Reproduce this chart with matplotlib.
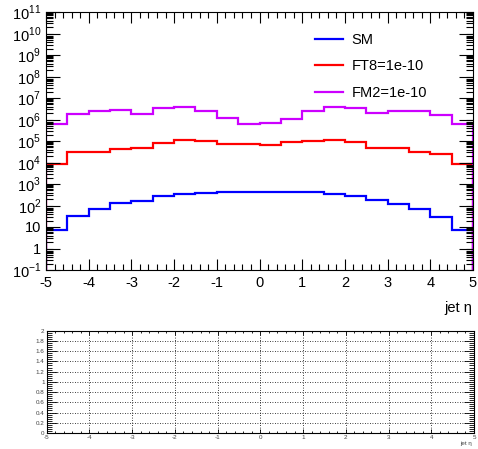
import matplotlib
matplotlib.use('Agg')
import matplotlib.pyplot as plt  # noqa E402
from matplotlib.ticker import (LogLocator, MultipleLocator,  # noqa E402
                               FuncFormatter, NullFormatter)
import numpy as np  # noqa E402

plt.rcParams['font.family'] = ['Liberation Sans', 'DejaVu Sans']
plt.rcParams['mathtext.fontset'] = 'custom'
plt.rcParams['mathtext.rm'] = 'Liberation Sans'
plt.rcParams['axes.unicode_minus'] = False

# jet eta binning: 20 bins from -5 to 5
eta_edges = np.linspace(-5, 5, 21)

sm = [7.5, 34, 72, 130, 170, 280, 360, 380, 410, 410,
      410, 410, 410, 360, 280, 185, 123, 72, 30, 7]
ft8 = [8.1e3, 3.0e4, 3.0e4, 4.4e4, 4.9e4, 7.8e4, 1.07e5, 9.6e4, 6.9e4, 6.9e4,
       6.5e4, 9.0e4, 1.0e5, 1.1e5, 9.0e4, 4.5e4, 4.5e4, 3.2e4, 2.6e4, 8.7e3]
fm2 = [6.5e5, 1.8e6, 2.6e6, 2.8e6, 1.9e6, 3.4e6, 3.8e6, 2.6e6, 1.15e6, 6.5e5,
       7.2e5, 1.1e6, 2.6e6, 3.8e6, 3.4e6, 2.0e6, 2.6e6, 2.6e6, 1.7e6, 5.9e5]

series = [("SM", sm, "#0000ff"),
          ("FT8=1e-10", ft8, "#ff0000"),
          ("FM2=1e-10", fm2, "#cc00ff")]


def log_label(v, pos):
    e = int(round(np.log10(v)))
    if e == 0:
        return "1"
    if e == 1:
        return "10"
    return r"$10^{\mathregular{%d}}$" % e


fig = plt.figure(figsize=(4.78, 4.49), dpi=100)

# upper pad: distributions
ax = fig.add_axes([46 / 478, 1 - 270 / 449, 427 / 478, 258 / 449])
for name, vals, col in series:
    ax.stairs(vals, eta_edges, color=col, lw=1.6, label=name)

ax.set_yscale('log')
ax.set_xlim(-5, 5)
ax.set_ylim(1e-1, 1e11)
ax.yaxis.set_major_locator(LogLocator(base=10, numticks=20))
ax.yaxis.set_minor_locator(LogLocator(base=10, subs=np.arange(2, 10),
                                      numticks=20))
ax.yaxis.set_major_formatter(FuncFormatter(log_label))
ax.yaxis.set_minor_formatter(NullFormatter())
ax.xaxis.set_major_locator(MultipleLocator(1))
ax.xaxis.set_minor_locator(MultipleLocator(0.2))
ax.tick_params(which='both', direction='in', top=True, right=True,
               labelsize=10.5, width=0.8)
ax.tick_params(which='major', length=8)
ax.tick_params(axis='y', which='major', length=10)
ax.tick_params(axis='y', which='minor', length=5)
ax.tick_params(axis='x', which='minor', length=4)
ax.tick_params(axis='x', pad=4)
for sp in ax.spines.values():
    sp.set_linewidth(0.8)

leg = ax.legend(loc='upper left', bbox_to_anchor=(0.6, 0.97), frameon=False,
                fontsize=10.5, handlelength=1.9, handletextpad=0.6,
                labelspacing=0.85)
fig.text(472 / 478, 1 - 308 / 449, "jet η", ha='right', va='center',
         fontsize=10.5)

# lower pad: ratio frame
rx = fig.add_axes([46.7 / 478, 1 - 433 / 449, 427.3 / 478, 102.3 / 449])
rx.set_xlim(-5, 5)
rx.set_ylim(0, 2)
rx.xaxis.set_major_locator(MultipleLocator(1))
rx.xaxis.set_minor_locator(MultipleLocator(0.2))
rx.yaxis.set_major_locator(MultipleLocator(0.2))
rx.yaxis.set_minor_locator(MultipleLocator(0.04))
rx.yaxis.set_major_formatter(FuncFormatter(lambda v, p: "%g" % round(v, 1)))
rx.grid(True, which='major', color='black', ls=(0, (1, 2)), lw=0.6)
rx.tick_params(which='both', direction='in', top=True, right=True,
               labelsize=4.5, width=0.6, pad=1.5, labelcolor='#444444')
rx.tick_params(axis='y', which='major', length=7)
rx.tick_params(axis='y', which='minor', length=3.5)
rx.tick_params(axis='x', which='major', length=3)
rx.tick_params(axis='x', which='minor', length=1.5)
for sp in rx.spines.values():
    sp.set_linewidth(0.8)
fig.text(472 / 478, 1 - 443 / 449, "jet η", ha='right', va='center',
         fontsize=4.5, color='#444444')

fig.savefig("out.png", dpi=100)
